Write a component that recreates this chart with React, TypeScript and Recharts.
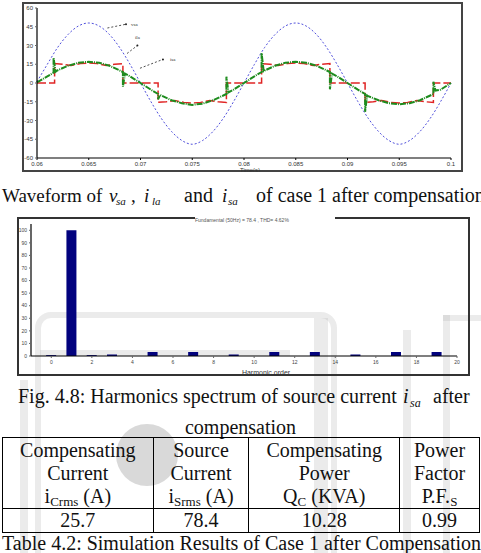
import React from 'react';
import {
  LineChart,
  Line,
  BarChart,
  Bar,
  XAxis,
  YAxis,
  ReferenceLine,
  ReferenceDot,
} from 'recharts';

// waveform (case 1, after compensation)
const timeTicks = [0.06, 0.065, 0.07, 0.075, 0.08, 0.085, 0.09, 0.095, 0.1];
const ampTicks = [-60, -45, -30, -15, 0, 15, 30, 45, 60];

const vsaTimes = [
  0.06, 0.061, 0.062, 0.063, 0.064, 0.065, 0.066, 0.067, 0.068, 0.069, 0.07,
  0.071, 0.072, 0.073, 0.074, 0.075, 0.076, 0.077, 0.078, 0.079, 0.08,
  0.081, 0.082, 0.083, 0.084, 0.085, 0.086, 0.087, 0.088, 0.089, 0.09,
  0.091, 0.092, 0.093, 0.094, 0.095, 0.096, 0.097, 0.098, 0.099, 0.1,
];
const vsaValues = [
  1, 15, 28.5, 38.8, 45.6, 48, 45.6, 38.8, 28.2, 14.8, 0,
  -14.8, -28.2, -38.8, -46, -49, -46, -38.8, -28.2, -14.8, 0,
  14.8, 28.5, 38.8, 45.6, 48, 45.6, 38.8, 28.2, 14.8, 0,
  -14.8, -28.2, -38.8, -46, -49, -46, -38.8, -28.2, -14.8, 0,
];

const ilaTimes = [
  0.06, 0.0617, 0.0617, 0.0625, 0.0633, 0.0642, 0.065, 0.0658, 0.0667, 0.0675, 0.0683, 0.0683,
  0.0717, 0.0717, 0.0725, 0.0733, 0.0742, 0.075, 0.0758, 0.0767, 0.0775, 0.0783, 0.0783,
  0.0817, 0.0817, 0.0825, 0.0833, 0.0842, 0.085, 0.0858, 0.0867, 0.0875, 0.0883, 0.0883,
  0.0917, 0.0917, 0.0925, 0.0933, 0.0942, 0.095, 0.0958, 0.0967, 0.0975, 0.0983, 0.0983, 0.1,
];
const ilaValues = [
  0, 0, 15.5, 15, 14, 15.5, 16, 15.5, 14, 15, 15.5, 0,
  0, -15.5, -15, -14, -15.5, -16, -15.5, -14, -15, -15.5, 0,
  0, 15.5, 15, 14, 15.5, 16, 15.5, 14, 15, 15.5, 0,
  0, -15.5, -15, -14, -15.5, -16, -15.5, -14, -15, -15.5, 0, 0,
];

const isaTimes = [
  0.06, 0.061, 0.0616, 0.0616, 0.0618, 0.062, 0.063, 0.064, 0.065, 0.066, 0.067, 0.068,
  0.0683, 0.0683, 0.0685, 0.069, 0.07, 0.071, 0.0717, 0.0717, 0.0719, 0.072, 0.073, 0.074,
  0.075, 0.076, 0.077, 0.078, 0.0783, 0.0783, 0.0785, 0.079, 0.08, 0.081, 0.0817, 0.0817,
  0.0819, 0.082, 0.083, 0.084, 0.085, 0.086, 0.087, 0.088, 0.0883, 0.0883, 0.0885, 0.089,
  0.09, 0.091, 0.0917, 0.0917, 0.0919, 0.092, 0.093, 0.094, 0.095, 0.096, 0.097, 0.098,
  0.0983, 0.0983, 0.0985, 0.099, 0.1,
];
const isaValues = [
  0.5, 5.3, 8.3, 20, 9, 10.2, 13.8, 16.2, 17, 16.2, 13.8, 10,
  8.8, -3, 7.5, 5.3, 0, -5.3, -8.8, -13, -9.5, -10, -13.8, -16.2,
  -17.5, -16.5, -13.8, -10, -8.8, 5, -7.5, -5.3, 0, 5.3, 8.8, 24,
  9.5, 10, 13.8, 16.2, 17, 16.2, 13.8, 10, 8.8, -5, 7.5, 5.3,
  0, -5.3, -8.8, -23, -10, -10.5, -13.8, -16.2, -17, -16.2, -13.8, -10,
  -8.8, 1, -6, -5.3, 0,
];

// harmonic spectrum of i_sa
const harmonicOrders = [0, 1, 2, 3, 4, 5, 6, 7, 8, 9, 10, 11, 12, 13, 14, 15, 16, 17, 18, 19];
const harmonicMag = [0.7, 100, 0.7, 1.2, 0, 3.2, 0, 3.2, 0, 1.2, 0, 3.2, 0, 3.2, 0, 1.2, 0, 3.2, 0, 3.2];
const orderTicks = [0, 2, 4, 6, 8, 10, 12, 14, 16, 18, 20];
const magTicks = [0, 10, 20, 30, 40, 50, 60, 70, 80, 90, 100];

const vsaData = vsaTimes.map((t, i) => ({ t, v: vsaValues[i] }));
const ilaData = ilaTimes.map((t, i) => ({ t, v: ilaValues[i] }));
const isaData = isaTimes.map((t, i) => ({ t, v: isaValues[i] }));
const harmonicData = harmonicOrders.map((order, i) => ({ order, mag: harmonicMag[i] }));

const serif = '"Liberation Serif", "Times New Roman", "DejaVu Serif", serif';
const sans = '"Liberation Sans", Arial, sans-serif';

function Txt({ x, y, size = 19, italic, children }: { x: number; y: number; size?: number; italic?: boolean; children: React.ReactNode }) {
  return (
    <div
      style={{
        position: 'absolute', left: x, top: y, fontSize: size, lineHeight: 1, fontFamily: serif,
        fontStyle: italic ? 'italic' : 'normal', whiteSpace: 'nowrap', color: '#111',
      }}
    >
      {children}
    </div>
  );
}

function Watermark() {
  const grey = 'rgba(175,175,175,0.25)';
  return (
    <>
      <div style={{ position: 'absolute', left: 35, top: 312, width: 290, height: 260, border: `6px solid ${grey}`, borderRadius: 16 }} />
      <div style={{ position: 'absolute', left: 40, top: 350, width: 250, height: 6, background: grey }} />
      <div style={{ position: 'absolute', left: 314, top: 318, width: 14, height: 240, background: grey }} />
      <div style={{ position: 'absolute', left: 443, top: 315, width: 40, height: 6, background: grey }} />
      <div style={{ position: 'absolute', left: 443, top: 315, width: 7, height: 240, background: grey }} />
      <div style={{ position: 'absolute', left: 403, top: 330, width: 8, height: 230, background: grey }} />
      <div style={{ position: 'absolute', left: 20, top: 380, width: 8, height: 175, background: grey }} />
      <div style={{ position: 'absolute', left: 116, top: 424, width: 62, height: 62, borderRadius: 31, background: 'rgba(160,160,160,0.4)' }} />
    </>
  );
}

const ann = { stroke: '#222', strokeDasharray: '2 2', strokeWidth: 0.8 };

function WaveChart() {
  return (
    <LineChart width={441} height={170} margin={{ top: 6, right: 12, bottom: 0, left: 0 }}>
      <XAxis
        dataKey="t"
        type="number"
        domain={[0.06, 0.1]}
        ticks={timeTicks}
        height={14}
        tickSize={2}
        tick={{ fontSize: 6, fill: '#333', fontFamily: sans }}
        axisLine={{ stroke: '#000', strokeWidth: 1.2 }}
        tickLine={{ stroke: '#000' }}
        label={{ value: 'Time(s)', position: 'insideBottom', offset: 0, fontSize: 6, fill: '#333', fontFamily: sans, dx: 6 }}
      />
      <XAxis xAxisId="top" orientation="top" type="number" domain={[0.06, 0.1]} ticks={timeTicks} height={0} mirror tickSize={3} tickFormatter={() => ''} axisLine={{ stroke: '#bbb' }} tickLine={{ stroke: '#333' }} />
      <YAxis
        type="number"
        domain={[-60, 60]}
        ticks={ampTicks}
        width={15}
        tickSize={2}
        tick={{ fontSize: 6, fill: '#333', fontFamily: sans }}
        axisLine={{ stroke: '#000', strokeWidth: 1.2 }}
      />
      <YAxis yAxisId="right" orientation="right" type="number" domain={[-60, 60]} ticks={ampTicks} width={0} mirror tickSize={3} tickFormatter={() => ''} axisLine={{ stroke: '#888' }} tickLine={{ stroke: '#333' }} />
      <Line data={vsaData} dataKey="v" type="monotone" stroke="#5050dc" strokeWidth={1} strokeDasharray="2 2" dot={false} isAnimationActive={false} />
      <Line data={ilaData} dataKey="v" type="linear" stroke="#e02424" strokeWidth={1.5} strokeDasharray="9 3" dot={false} isAnimationActive={false} />
      <Line data={isaData} dataKey="v" type="linear" stroke="#1e8c1e" strokeWidth={2} strokeDasharray="6 1 1 1" dot={false} isAnimationActive={false} />
      <ReferenceLine segment={[{ x: 0.0668, y: 44 }, { x: 0.0686, y: 47 }]} {...ann} />
      <ReferenceLine segment={[{ x: 0.0687, y: 23.6 }, { x: 0.0697, y: 30 }]} {...ann} />
      <ReferenceLine segment={[{ x: 0.06995, y: 11.8 }, { x: 0.07217, y: 18.9 }]} {...ann} />
      <ReferenceDot x={0.0686} y={47} r={1} fill="#222" stroke="none" label={{ value: 'vsa', position: 'right', fontSize: 5, fill: '#333', offset: 4 }} />
      <ReferenceDot x={0.0697} y={30} r={1} fill="#222" stroke="none" label={{ value: 'ila', position: 'top', fontSize: 5, fill: '#333', offset: 6 }} />
      <ReferenceDot x={0.07217} y={18.9} r={1} fill="#222" stroke="none" label={{ value: 'isa', position: 'right', fontSize: 5, fill: '#333', offset: 6 }} />
    </LineChart>
  );
}

function SpectrumChart() {
  return (
    <BarChart width={453} height={159} data={harmonicData} margin={{ top: 7, right: 13, bottom: 0, left: 0 }}>
      <XAxis
        dataKey="order"
        type="number"
        domain={[-1, 20]}
        ticks={orderTicks}
        height={20}
        tickSize={2}
        tick={{ fontSize: 5, fill: '#444', fontFamily: sans }}
        axisLine={{ stroke: '#000', strokeWidth: 1.2 }}
        label={{ value: 'Harmonic order', position: 'insideBottom', offset: 1, fontSize: 7, fill: '#333', fontFamily: sans, dx: 22 }}
      />
      <XAxis xAxisId="top" orientation="top" type="number" domain={[-1, 20]} ticks={orderTicks} height={0} mirror tickSize={3} tickFormatter={() => ''} axisLine={{ stroke: '#000', strokeWidth: 1.2 }} tickLine={{ stroke: '#333' }} />
      <YAxis
        type="number"
        domain={[0, 105]}
        ticks={magTicks}
        width={14}
        tickSize={2}
        tick={{ fontSize: 5, fill: '#444', fontFamily: sans }}
        axisLine={{ stroke: '#000', strokeWidth: 1.2 }}
      />
      <YAxis yAxisId="right" orientation="right" type="number" domain={[0, 105]} ticks={magTicks} width={0} mirror tickSize={3} tickFormatter={() => ''} axisLine={{ stroke: '#000', strokeWidth: 1 }} tickLine={{ stroke: '#333' }} />
      <Bar dataKey="mag" fill="#02027e" barSize={10} isAnimationActive={false} />
    </BarChart>
  );
}

const cell: React.CSSProperties = {
  border: '1.5px solid #000', padding: 0, textAlign: 'center', verticalAlign: 'middle',
  fontFamily: serif, fontSize: 20, lineHeight: '23px', color: '#111',
};
const subStyle: React.CSSProperties = { fontSize: 13, verticalAlign: 'baseline', position: 'relative', top: 3, lineHeight: 0 };

export default function App() {
  return (
    <div style={{ position: 'absolute', left: 0, top: 0, width: 481, height: 553, overflow: 'hidden', background: '#fff', fontFamily: serif, color: '#111' }}>
      <Watermark />

      <div style={{ position: 'absolute', left: 22, top: 2, width: 437, height: 166, border: '2px solid #444' }} />
      <div style={{ position: 'absolute', left: 22, top: 2 }}>
        <WaveChart />
      </div>

      {/* caption of the waveform figure (justified line, runs off the right edge) */}
      <Txt x={2} y={186}>Waveform of</Txt>
      <Txt x={109} y={186} italic>v</Txt>
      <Txt x={116} y={196} size={11} italic>sa</Txt>
      <Txt x={131} y={186}>,</Txt>
      <Txt x={144} y={186} italic>i</Txt>
      <Txt x={152} y={196} size={11} italic>la</Txt>
      <Txt x={184} y={185} size={20}>and</Txt>
      <Txt x={222} y={186} italic>i</Txt>
      <Txt x={228} y={196} size={11} italic>sa</Txt>
      <Txt x={256} y={185} size={20}>of case 1 after compensation</Txt>

      <div style={{ position: 'absolute', left: 17, top: 217, width: 449, height: 155, border: '2px solid #333' }} />
      <div style={{ position: 'absolute', left: 17, top: 217 }}>
        <SpectrumChart />
      </div>
      <div style={{ position: 'absolute', left: 195, top: 217, width: 140, fontSize: 5, fontFamily: sans, color: '#555', background: '#fff', whiteSpace: 'nowrap', lineHeight: '7px' }}>
        Fundamental (50Hz) = 78.4 , THD= 4.62%
      </div>

      {/* caption of the spectrum figure */}
      <Txt x={18} y={386} size={20}>Fig. 4.8: Harmonics spectrum of source current</Txt>
      <Txt x={403} y={386} size={20} italic>i</Txt>
      <Txt x={410} y={397} size={12} italic>sa</Txt>
      <Txt x={433} y={386} size={20}>after</Txt>
      <div style={{ position: 'absolute', left: 0, width: 481, top: 417, fontSize: 20, lineHeight: 1, fontFamily: serif, textAlign: 'center' }}>
        compensation
      </div>

      <table style={{ position: 'absolute', left: 2, top: 437, width: 478, borderCollapse: 'collapse' }}>
        <tbody>
          <tr style={{ height: 71 }}>
            <td style={{ ...cell, width: 151 }}>Compensating<br />Current<br />i<sub style={subStyle}>Crms</sub> (A)</td>
            <td style={{ ...cell, width: 96 }}>Source<br />Current<br />i<sub style={subStyle}>Srms</sub> (A)</td>
            <td style={{ ...cell, width: 151 }}>Compensating<br />Power<br />Q<sub style={subStyle}>C</sub> (KVA)</td>
            <td style={{ ...cell, width: 80 }}>Power<br />Factor<br />P.F.<sub style={subStyle}>S</sub></td>
          </tr>
          <tr style={{ height: 24 }}>
            <td style={cell}>25.7</td>
            <td style={cell}>78.4</td>
            <td style={cell}>10.28</td>
            <td style={cell}>0.99</td>
          </tr>
        </tbody>
      </table>

      <Txt x={2} y={533} size={20}>Table 4.2: Simulation Results of Case 1 after Compensation</Txt>
    </div>
  );
}
